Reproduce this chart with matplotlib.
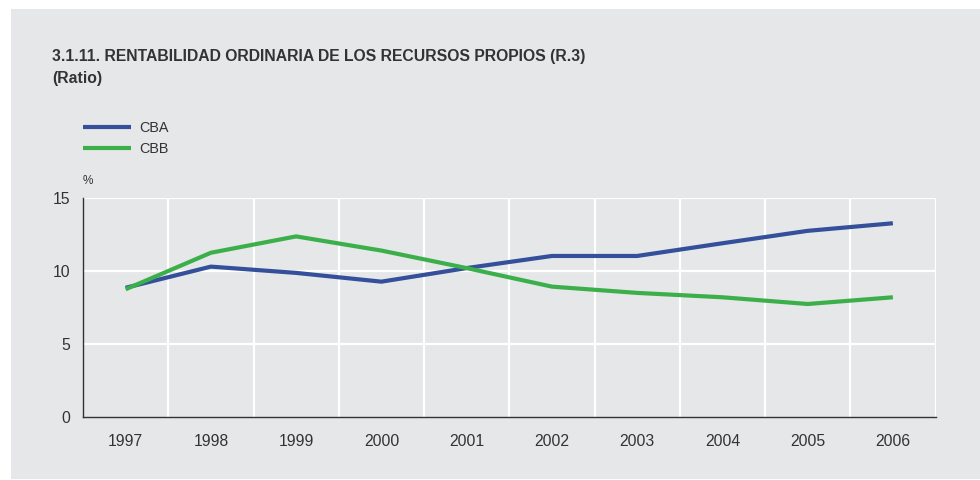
import matplotlib.pyplot as plt
from matplotlib.patches import Rectangle

plt.rcParams['font.family'] = ['Liberation Sans', 'DejaVu Sans']

years = ['1997', '1998', '1999', '2000', '2001', '2002', '2003', '2004', '2005', '2006']
cba = [8.85, 10.3, 9.87, 9.27, 10.2, 11.03, 11.03, 11.9, 12.75, 13.27]
cbb = [8.75, 11.25, 12.37, 11.4, 10.2, 8.93, 8.5, 8.2, 7.74, 8.2]

bg = '#e6e7e9'
txt = '#333333'

fig = plt.figure(figsize=(9.8, 4.8), dpi=100)
fig.patches.append(Rectangle((11 / 980, 1 / 480), 969 / 980, 470 / 480,
                             transform=fig.transFigure, facecolor=bg,
                             edgecolor='none', zorder=-10))

ax = fig.add_axes([83 / 980, 63 / 480, 852.5 / 980, 219 / 480])
ax.set_facecolor(bg)

x = list(range(len(years)))
l1, = ax.plot(x, cba, color='#34509a', lw=3, solid_capstyle='butt', label='CBA', zorder=3)
l2, = ax.plot(x, cbb, color='#3bb04a', lw=3, solid_capstyle='butt', label='CBB', zorder=3)

ax.set_xlim(-0.5, len(years) - 0.5)
ax.set_ylim(0, 15)
ax.set_yticks([0, 5, 10, 15])
ax.set_xticks(x)
ax.set_xticklabels(years)
ax.tick_params(length=0, labelsize=11.3, colors=txt, pad=12)
ax.tick_params(axis='y', pad=9)

# white grid at category boundaries and at y ticks
for b in range(1, len(years) + 1):
    ax.axvline(b - 0.5, color='white', lw=1.6, zorder=1)
for yv in [5, 10, 15]:
    ax.axhline(yv, color='white', lw=1.6, zorder=1)

for s in ['top', 'right']:
    ax.spines[s].set_visible(False)
for s in ['left', 'bottom']:
    ax.spines[s].set_color(txt)
    ax.spines[s].set_linewidth(1)
    ax.spines[s].set_zorder(4)

fig.text(52 / 980, 1 - 57 / 480, '3.1.11. RENTABILIDAD ORDINARIA DE LOS RECURSOS PROPIOS (R.3)',
         fontsize=11.3, fontweight='bold', color=txt, va='center')
fig.text(52 / 980, 1 - 78 / 480, '(Ratio)', fontsize=11.3, fontweight='bold', color=txt, va='center')
fig.text(83 / 980, 1 - 181 / 480, '%', fontsize=8.5, color=txt, va='center')

fig.legend(handles=[l1, l2], loc='upper left', bbox_to_anchor=(83 / 980, 1 - 121.5 / 480),
           frameon=False, fontsize=10.4, handlelength=3.3, handletextpad=0.6,
           labelspacing=0.45, borderpad=0, borderaxespad=0, labelcolor=txt)

fig.savefig('out.png', dpi=100)
